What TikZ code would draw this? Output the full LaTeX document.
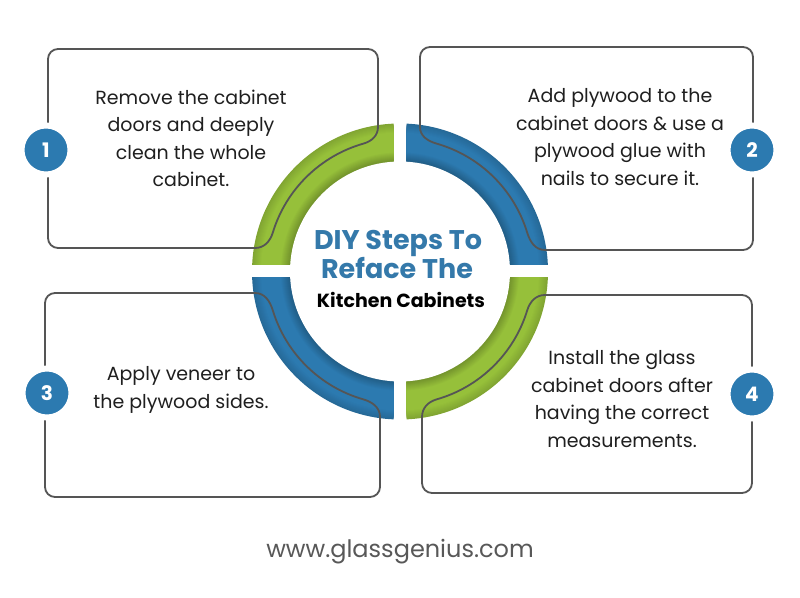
\documentclass[tikz,border=0pt]{standalone}
\usepackage{fontspec}
\setmainfont{Poppins}
\usepackage{xcolor}
\usetikzlibrary{positioning}

\definecolor{ringgreen}{RGB}{150,192,58}
\definecolor{ringblue}{RGB}{44,122,176}
\definecolor{titleblue}{RGB}{52,121,170}
\definecolor{linegray}{RGB}{85,85,85}
\definecolor{urlgray}{RGB}{88,88,88}

\tikzset{
  boxline/.style={draw=linegray, line width=1.8pt, line cap=round, line join=round},
  numdot/.style={circle, fill=ringblue, draw=white, line width=6pt, minimum size=49pt,
    inner sep=0pt, text=white, font=\bfseries\fontsize{20}{20}\selectfont},
  steptext/.style={align=center, text=black!88, font=\fontsize{19}{27.5}\selectfont},
  titletext/.style={anchor=base, text=titleblue, font=\bfseries\fontsize{27}{27}\selectfont},
}

\begin{document}
\begin{tikzpicture}[x=1pt,y=1pt]

\useasboundingbox[fill=white] (0,0) rectangle (800,597);

\coordinate (mid) at (400,325.5);

% ring quarters
\foreach \sx/\sy/\rc in {1/1/ringblue, -1/1/ringgreen, -1/-1/ringblue, 1/-1/ringgreen} {
  \begin{scope}
    \clip (400+\sx*6.5, 325.5+\sy*6.5) rectangle ++(\sx*160, \sy*160);
    \foreach \r in {148,147,...,111} {
      \pgfmathsetmacro{\m}{100 - 25*max(0,1-(\r-110)/10) - 14*max(0,(\r-139)/9)}
      \fill[\rc!\m!black] (mid) circle[radius=\r];
    }
  \end{scope}
}
\fill[white] (mid) circle[radius=110];

% step boxes
\draw[boxline, rounded corners=10pt] (378,470) -- (378,548) -- (48,548) -- (48,349) -- (255,349);
\draw[boxline] (255,349) to[out=0, in=253] (272.8,364.4)
  arc[start angle=163, end angle=106, radius=133] to[out=16, in=-90] (378,470);

\draw[boxline, rounded corners=10pt] (420,470) -- (420,550) -- (753,550) -- (753,347) -- (545,347);
\draw[boxline] (545,347) to[out=180, in=287] (527.2,364.4)
  arc[start angle=17, end angle=74, radius=133] to[out=164, in=-90] (420,470);

\draw[boxline, rounded corners=10pt] (255,304) -- (45,304) -- (45,100) -- (380,100) -- (380,180);
\draw[boxline] (255,304) to[out=0, in=107] (272.8,286.6)
  arc[start angle=197, end angle=254, radius=133] to[out=-16, in=90] (380,180);

\draw[boxline, rounded corners=10pt] (545,302) -- (752,302) -- (752,104) -- (422,104) -- (422,180);
\draw[boxline] (545,302) to[out=180, in=73] (527.2,286.6)
  arc[start angle=-17, end angle=-74, radius=133] to[out=196, in=90] (422,180);

% numbers
\foreach \n/\x/\y in {1/46/447, 2/752/447, 3/47/204, 4/752/203} {
  \node[numdot] (num\n) at (\x,\y) {\n};
}

% texts
\node[steptext] (step1) at (191,458.5) {Remove the cabinet\\doors and deeply\\clean the whole\\cabinet.};
\node[steptext] (step2) at (620,460) {Add plywood to the\\cabinet doors \& use a\\plywood glue with\\nails to secure it.};
\node[steptext] (step3) at (181,207) {Apply veneer to\\the plywood sides.};
\node[steptext] (step4) at (622,198) {Install the glass\\cabinet doors after\\having the correct\\measurements.};

\node[titletext] (title1) at (398,347) {DIY Steps To};
\node[titletext] (title2) at (397,318.5) {Reface The};
\node[anchor=base, text=black, font=\bfseries\fontsize{19}{19}\selectfont] (title3) at (401,289.5) {Kitchen Cabinets};

\node[anchor=base, text=urlgray, font=\fontsize{24}{24}\selectfont] (site) at (400,40) {www.glassgenius.com};

\end{tikzpicture}
\end{document}
